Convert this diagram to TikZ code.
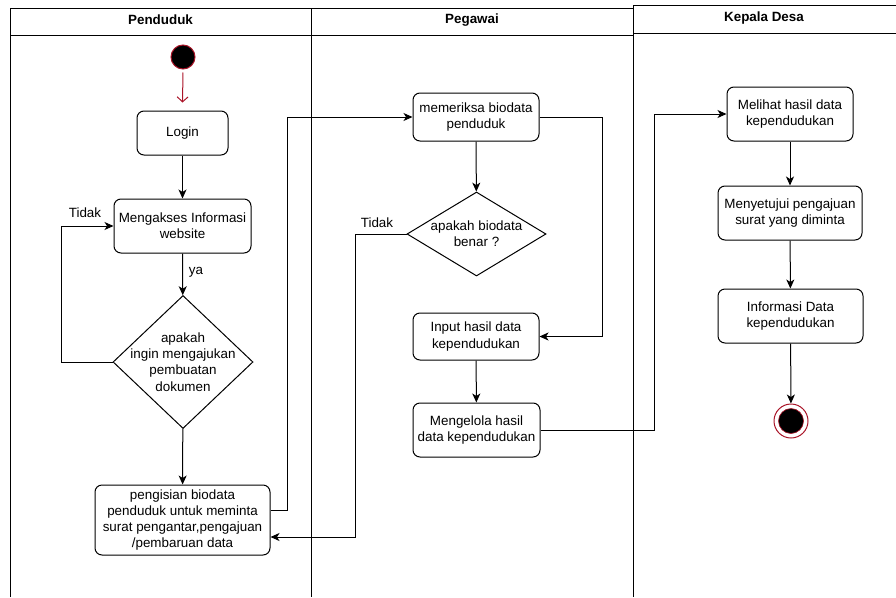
\documentclass[tikz,border=0pt]{standalone}
\usepackage{fontspec}
\setmainfont{Liberation Sans}
\usetikzlibrary{arrows.meta,shapes.geometric}
\definecolor{dred}{RGB}{170,20,40}
\begin{document}
\begin{tikzpicture}[x=1pt,y=-1pt,
  font=\fontsize{13.4}{16.2}\selectfont,
  lane/.style={draw=black,line width=1pt},
  act/.style={draw=black,line width=1pt,rounded corners=7pt,fill=white,align=center,inner sep=1pt},
  dec/.style={draw=black,line width=1pt,diamond,fill=white,inner sep=0pt},
  arr/.style={draw=black,line width=1pt,-{Stealth[length=9pt,width=8pt,inset=2.5pt]}},
  hdr/.style={font=\fontsize{13.4}{15}\selectfont\bfseries},
  lbl/.style={inner sep=0pt}]
\useasboundingbox (0,0) rectangle (896,597);
% swimlanes
\draw[lane] (10,597) -- (10,8) -- (633,8);
\draw[lane] (10,35) -- (633,35);
\draw[lane] (311,8) -- (311,597);
\draw[lane] (633,597) -- (633,5) -- (896,5);
\draw[lane] (633,33) -- (896,33);
\node[hdr] (h1) at (160.5,20) {Penduduk};
\node[hdr] (h2) at (472,20) {Pegawai};
\node[hdr] (h3) at (764,18) {Kepala Desa};
% Penduduk
\node[circle,fill=black,draw=dred,line width=1pt,minimum size=24pt,inner sep=0pt] (start) at (183,57) {};
\node[act,minimum width=91pt,minimum height=44pt] (login) at (182.5,133) {Login};
\node[act,minimum width=137pt,minimum height=54pt] (akses) at (182.5,226) {Mengakses Informasi\\website};
\node[dec,minimum width=140pt,minimum height=133pt,label={[align=center,inner sep=0pt]center:apakah\\ingin mengajukan\\pembuatan\\dokumen}] (d1) at (183,362) {};
\node[act,minimum width=175pt,minimum height=70pt,inner sep=0pt] (isi) at (182.5,520) {pengisian biodata\\penduduk untuk meminta\\surat pengantar,pengajuan\\/pembaruan data};
\node[lbl] (t1) at (85,213) {Tidak};
\node[lbl] (ya) at (196,272) {ya};
% Pegawai
\node[act,minimum width=126pt,minimum height=48pt] (periksa) at (476,117) {memeriksa biodata\\penduduk};
\node[dec,minimum width=139pt,minimum height=84pt,label={[align=center,inner sep=0pt]center:apakah biodata\\benar ?}] (d2) at (476.5,234) {};
\node[lbl] (t2) at (377,223) {Tidak};
\node[act,minimum width=126pt,minimum height=47pt] (input) at (476,336.5) {Input hasil data\\kependudukan};
\node[act,minimum width=127pt,minimum height=54pt] (kelola) at (476.5,430) {Mengelola hasil\\data kependudukan};
% Kepala Desa
\node[act,minimum width=126pt,minimum height=54pt] (lihat) at (790,114) {Melihat hasil data\\kependudukan};
\node[act,minimum width=144pt,minimum height=54pt] (setuju) at (790,213) {Menyetujui pengajuan\\surat yang diminta};
\node[act,minimum width=145pt,minimum height=54pt] (info) at (790.5,316) {Informasi Data\\kependudukan};
\node[circle,draw=dred,line width=1pt,fill=white,minimum size=34pt,inner sep=0pt] (end) at (791,421) {};
\node[circle,fill=black,draw=dred,line width=0.6pt,minimum size=25pt,inner sep=0pt] (endin) at (end.center) {};
% connectors
\draw[draw=dred,line width=1pt,-{Straight Barb[length=5pt,width=11pt]}] ([yshift=-3pt]start.south) -- ([yshift=8pt]login.north);
\draw[arr] (login) -- (akses);
\draw[arr] (akses) -- (d1);
\draw[arr] (d1.west) -- ++(-51,0) |- (akses.west);
\draw[arr] (d1) -- (isi);
\draw[arr] ([yshift=10pt]isi.east) -- ++(17,0) |- (periksa.west);
\draw[arr] (periksa) -- (d2);
\draw[arr] (d2.west) -- ++(-51,0) |- ([yshift=-17pt]isi.east);
\draw[arr] (periksa.east) -- ++(63,0) |- (input.east);
\draw[arr] (input) -- (kelola);
\draw[arr] (kelola.east) -- ++(114,0) |- (lihat.west);
\draw[arr] (lihat) -- (setuju);
\draw[arr] (setuju) -- (info);
\draw[arr] (info) -- (end);
\end{tikzpicture}
\end{document}
